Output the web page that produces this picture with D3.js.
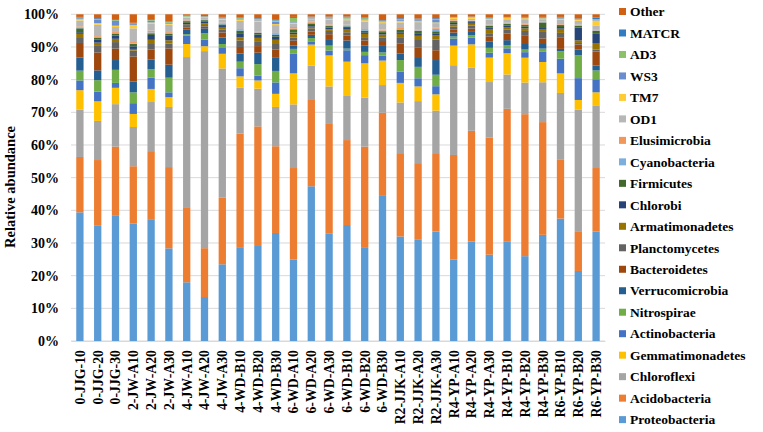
<!DOCTYPE html>
<html>
<head>
<meta charset="utf-8">
<script src="https://cdn.jsdelivr.net/npm/d3@7"></script>
<style>
  body { margin: 0; background: #fff; }
  svg text { font-family: "Liberation Serif", "Times New Roman", serif; font-weight: bold; fill: #000; }
</style>
</head>
<body>
<div id="chart"></div>
<script>
const samples = ['0-JJG-10', '0-JJG-20', '0-JJG-30', '2-JW-A10', '2-JW-A20', '2-JW-A30',
    '4-JW-A10', '4-JW-A20', '4-JW-A30', '4-WD-B10', '4-WD-B20', '4-WD-B30',
    '6-WD-A10', '6-WD-A20', '6-WD-A30', '6-WD-B10', '6-WD-B20', '6-WD-B30',
    'R2-JJK-A10', 'R2-JJK-A20', 'R2-JJK-A30', 'R4-YP-A10', 'R4-YP-A20', 'R4-YP-A30',
    'R4-YP-B10', 'R4-YP-B20', 'R4-YP-B30', 'R6-YP-B10', 'R6-YP-B20', 'R6-YP-B30'];

// phyla, bottom of the stack first
const phyla = ['Proteobacteria', 'Acidobacteria', 'Chloroflexi', 'Gemmatimonadetes', 'Actinobacteria',
    'Nitrospirae', 'Verrucomicrobia', 'Bacteroidetes', 'Planctomycetes', 'Armatimonadetes',
    'Chlorobi', 'Firmicutes', 'Cyanobacteria', 'Elusimicrobia', 'OD1', 'TM7', 'WS3', 'AD3',
    'MATCR', 'Other'];

const colors = ['#5B9BD5', '#ED7D31', '#A5A5A5', '#FFC000', '#4472C4', '#70AD47', '#255E91',
    '#9E480E', '#636363', '#997300', '#264478', '#43682B', '#7CAFDD', '#F1975A', '#B7B7B7',
    '#FFCD33', '#698ED0', '#8CC168', '#327DC2', '#D26012'];

// relative abundance (%) per sample
const Proteobacteria = [39.5, 35.5, 38.5, 36, 37, 28.5, 18, 13.5, 23.5, 28.5, 29, 33, 25, 47.5, 33, 35.5, 28.5, 44.5, 32, 31, 33.5, 25, 30.5, 26.5, 30.5, 26, 32.5, 37.5, 21.5, 33.5];
const Acidobacteria = [17, 20, 21, 17.5, 21, 25, 23, 15, 20.5, 35, 36.5, 26.5, 28, 26.5, 33.5, 26, 31, 25.5, 25.5, 23.5, 24, 32, 33.9, 36, 40.5, 43.5, 34.5, 18, 12.2, 19.5];
const Chloroflexi = [14.5, 12, 13, 12, 15, 18.5, 46, 60.5, 39.5, 14, 11.5, 12, 19.5, 10.5, 11.5, 13.5, 15, 8.5, 15.5, 19, 13, 27.5, 19.3, 17, 10.5, 9.7, 12.2, 20.5, 37.3, 19.2];
const Gemmatimonadetes = [6, 6, 5, 4, 4, 3, 4, 1.5, 4.5, 3.5, 2.5, 4, 9.5, 6.5, 9.5, 10.5, 10.5, 7.5, 6, 4.5, 5, 6, 7.2, 7.5, 6.5, 7.6, 6.2, 6, 3, 4];
const Actinobacteria = [3, 3, 1.5, 3.3, 3.5, 1.5, 2.5, 2, 2, 2.5, 1.5, 3.5, 6, 1, 1.5, 3.5, 2.5, 1.5, 3.5, 2.5, 2.5, 2.2, 2.1, 1.5, 1.5, 1.7, 3.1, 4.5, 6.7, 4];
const Nitrospirae = [3, 3.5, 4, 3.3, 2.5, 4.5, 0.5, 2, 1, 2, 3.5, 3.5, 1.5, 1, 1.5, 0.5, 1, 1, 3.5, 3.5, 3.5, 0.6, 0.7, 1.5, 1, 0.8, 1, 2.3, 7, 2.7];
const Verrucomicrobia = [4, 3, 3, 3.3, 3, 4, 1.5, 1.5, 2, 2.5, 3.5, 4, 1, 1, 2, 2.5, 2, 2, 2, 3, 4.5, 1.2, 1, 2, 1.5, 1.7, 1.7, 0.7, 1.8, 1.5];
const Bacteroidetes = [4.5, 5.5, 3.5, 7.7, 3, 5, 0.5, 0.5, 1.5, 2, 2, 2.5, 1.5, 1, 1.5, 1.5, 1.5, 1.5, 3, 3, 3, 1, 1, 1.5, 2, 2.5, 1.4, 3.4, 1.5, 4.3];
const Planctomycetes = [1.8, 2, 2, 1.8, 2, 1.5, 0.5, 0.5, 1, 2, 1.5, 2, 1, 1, 1, 1, 1, 1, 2, 2.5, 3.3, 0.8, 1, 1, 1.3, 1.5, 2, 1.5, 0.5, 0.6];
const Armatimonadetes = [1, 1, 1, 0.5, 1, 1, 0.5, 0.5, 0.5, 1, 1, 1, 1, 0.5, 0.5, 0.8, 1, 1, 1, 1, 1.2, 0.7, 0.5, 1.3, 0.7, 0.8, 0.7, 1.3, 0.8, 2];
const Chlorobi = [0.5, 1, 1, 0.8, 1.5, 1.5, 0.5, 0.5, 0.5, 1, 1, 1, 0.5, 0.5, 0.5, 0.5, 0.5, 0.5, 0.5, 0.8, 0.7, 0.5, 0.5, 0.5, 0.5, 0.5, 0.5, 0.5, 3.9, 2.8];
const Firmicutes = [1.2, 0.5, 0.5, 0.7, 0.5, 0.5, 0.5, 0.5, 0.5, 1, 0.5, 0.5, 1, 0.5, 0.5, 0.5, 0.5, 0.5, 0.8, 0.7, 0.6, 0.5, 0.3, 0.5, 0.5, 0.5, 1.7, 0.6, 0.6, 0.9];
const Cyanobacteria = [0.3, 0.3, 0.3, 0.2, 0.3, 0.3, 0.2, 0.1, 0.2, 0.2, 0.2, 0.3, 0.2, 0.2, 0.2, 0.2, 0.2, 0.2, 0.2, 0.2, 0.8, 0.1, 0.1, 0.1, 0.1, 0.1, 0.1, 0.1, 0.1, 0.2];
const Elusimicrobia = [0.3, 0.5, 0.3, 0.4, 0.5, 0.5, 0.2, 0.2, 0.3, 0.3, 0.3, 0.3, 0.5, 0.3, 0.3, 0.3, 0.3, 0.3, 0.3, 0.3, 0.3, 0.2, 0.1, 0.2, 0.2, 0.3, 0.2, 0.2, 0.2, 0.3];
const OD1 = [1.8, 3.2, 1.5, 4.2, 2.2, 2, 0.6, 0.4, 1, 2.5, 3, 2.4, 1, 0.8, 1.5, 1.4, 2.3, 2, 1.7, 2.2, 1.4, 0.4, 0.5, 1.5, 1.1, 1.4, 0.7, 1.3, 1.2, 1.2];
const TM7 = [0.4, 0.5, 0.4, 1, 0.3, 0.3, 0.3, 0.2, 0.3, 0.4, 0.3, 0.3, 0.3, 0.2, 0.3, 0.4, 0.4, 0.3, 0.5, 0.3, 0.2, 0.3, 0.4, 0.3, 0.4, 0.3, 0.2, 0.3, 0.3, 1.5];
const WS3 = [0.3, 1, 1.5, 0.3, 0.5, 0.3, 0.1, 0.1, 0.2, 0.2, 0.3, 0.8, 0.2, 0.2, 0.2, 0.1, 0.2, 0.2, 0.3, 0.3, 0.8, 0.1, 0.1, 0.1, 0.1, 0.1, 0.1, 0.2, 0.1, 0.2];
const AD3 = [0.2, 0.2, 0.2, 0.2, 0.2, 0.2, 0.2, 0.1, 0.1, 0.2, 0.2, 0.3, 1.3, 0.2, 0.2, 0.4, 0.4, 0.2, 0.2, 0.2, 0.2, 0.1, 0.1, 0.1, 0.1, 0.1, 0.2, 0.2, 0.1, 0.2];
const MATCR = [0.2, 0.3, 0.3, 0.2, 0.3, 0.2, 0.1, 0.1, 0.2, 0.2, 0.2, 0.4, 0.3, 0.2, 0.2, 0.2, 0.2, 0.2, 0.3, 0.3, 0.3, 0.1, 0.1, 0.2, 0.1, 0.2, 0.2, 0.2, 0.2, 0.5];
const Other = [0.8, 1.2, 1.5, 2.6, 1.5, 2.2, 0.4, 0.6, 0.8, 1, 1.2, 1.5, 0.8, 0.7, 0.7, 0.7, 1, 1.8, 1.2, 1.3, 1.2, 0.8, 0.7, 1, 0.8, 0.8, 0.8, 0.8, 1.3, 1];

const yTicks = [0, 0.1, 0.2, 0.3, 0.4, 0.5, 0.6, 0.7, 0.8, 0.9, 1];

const seriesValues = [Proteobacteria, Acidobacteria, Chloroflexi, Gemmatimonadetes, Actinobacteria,
    Nitrospirae, Verrucomicrobia, Bacteroidetes, Planctomycetes, Armatimonadetes, Chlorobi,
    Firmicutes, Cyanobacteria, Elusimicrobia, OD1, TM7, WS3, AD3, MATCR, Other];

// one row per sample for d3.stack
const table = samples.map((s, i) => {
    const row = { sample: s };
    phyla.forEach((p, j) => row[p] = seriesValues[j][i]);
    return row;
});

const width = 763, height = 432;
const plotLeft = 71, plotRight = 605, plotTop = 14.3, plotBottom = 341;

const svg = d3.select('#chart').append('svg')
    .attr('width', width)
    .attr('height', height);

const x = d3.scaleBand()
    .domain(samples)
    .range([plotLeft, plotRight])
    .paddingInner(0.59)
    .paddingOuter(0.295);

const y = d3.scaleLinear()
    .domain([0, 1])
    .range([plotBottom, plotTop]);

const color = d3.scaleOrdinal().domain(phyla).range(colors);

// gridlines
svg.append('g')
    .selectAll('line')
    .data(yTicks)
    .join('line')
    .attr('x1', plotLeft)
    .attr('x2', plotRight)
    .attr('y1', d => y(d))
    .attr('y2', d => y(d))
    .attr('stroke', '#d9d9d9')
    .attr('stroke-width', 1);

const stack = d3.stack().keys(phyla).offset(d3.stackOffsetExpand);
const layers = stack(table);

svg.append('g')
    .selectAll('g')
    .data(layers)
    .join('g')
    .attr('fill', d => color(d.key))
    .selectAll('rect')
    .data(d => d)
    .join('rect')
    .attr('x', d => x(d.data.sample))
    .attr('width', x.bandwidth())
    .attr('y', d => y(d[1]))
    .attr('height', d => y(d[0]) - y(d[1]));

// y axis
const yAxis = svg.append('g')
    .attr('transform', `translate(${plotLeft},0)`)
    .call(d3.axisLeft(y).tickValues(yTicks).tickFormat(d3.format('.0%')).tickSize(0).tickPadding(12));
yAxis.select('.domain').remove();
yAxis.selectAll('text').attr('font-size', 14);

// x axis
const xAxis = svg.append('g')
    .attr('transform', `translate(0,${plotBottom})`)
    .call(d3.axisBottom(x).tickSize(0));
xAxis.select('.domain').attr('stroke', '#d9d9d9');
xAxis.selectAll('text')
    .attr('font-size', 13.8)
    .attr('text-anchor', 'end')
    .attr('dy', '0.35em')
    .attr('transform', 'rotate(-90)')
    .attr('x', -9)
    .attr('y', 0);

svg.append('text')
    .attr('transform', `translate(15,187) rotate(-90)`)
    .attr('text-anchor', 'middle')
    .attr('font-size', 14.5)
    .text('Relative abundance');

// legend, top entry is the top of the stack
const legendOrder = phyla.slice().reverse();
const legend = svg.append('g')
    .selectAll('g')
    .data(legendOrder)
    .join('g')
    .attr('transform', (d, i) => `translate(619,${11.5 + i * 21.48})`);

legend.append('rect')
    .attr('x', 0)
    .attr('y', -3.5)
    .attr('width', 7)
    .attr('height', 7)
    .attr('fill', d => color(d));

legend.append('text')
    .attr('x', 11)
    .attr('dy', '0.35em')
    .attr('font-size', 13.5)
    .text(d => d);
</script>
</body>
</html>
